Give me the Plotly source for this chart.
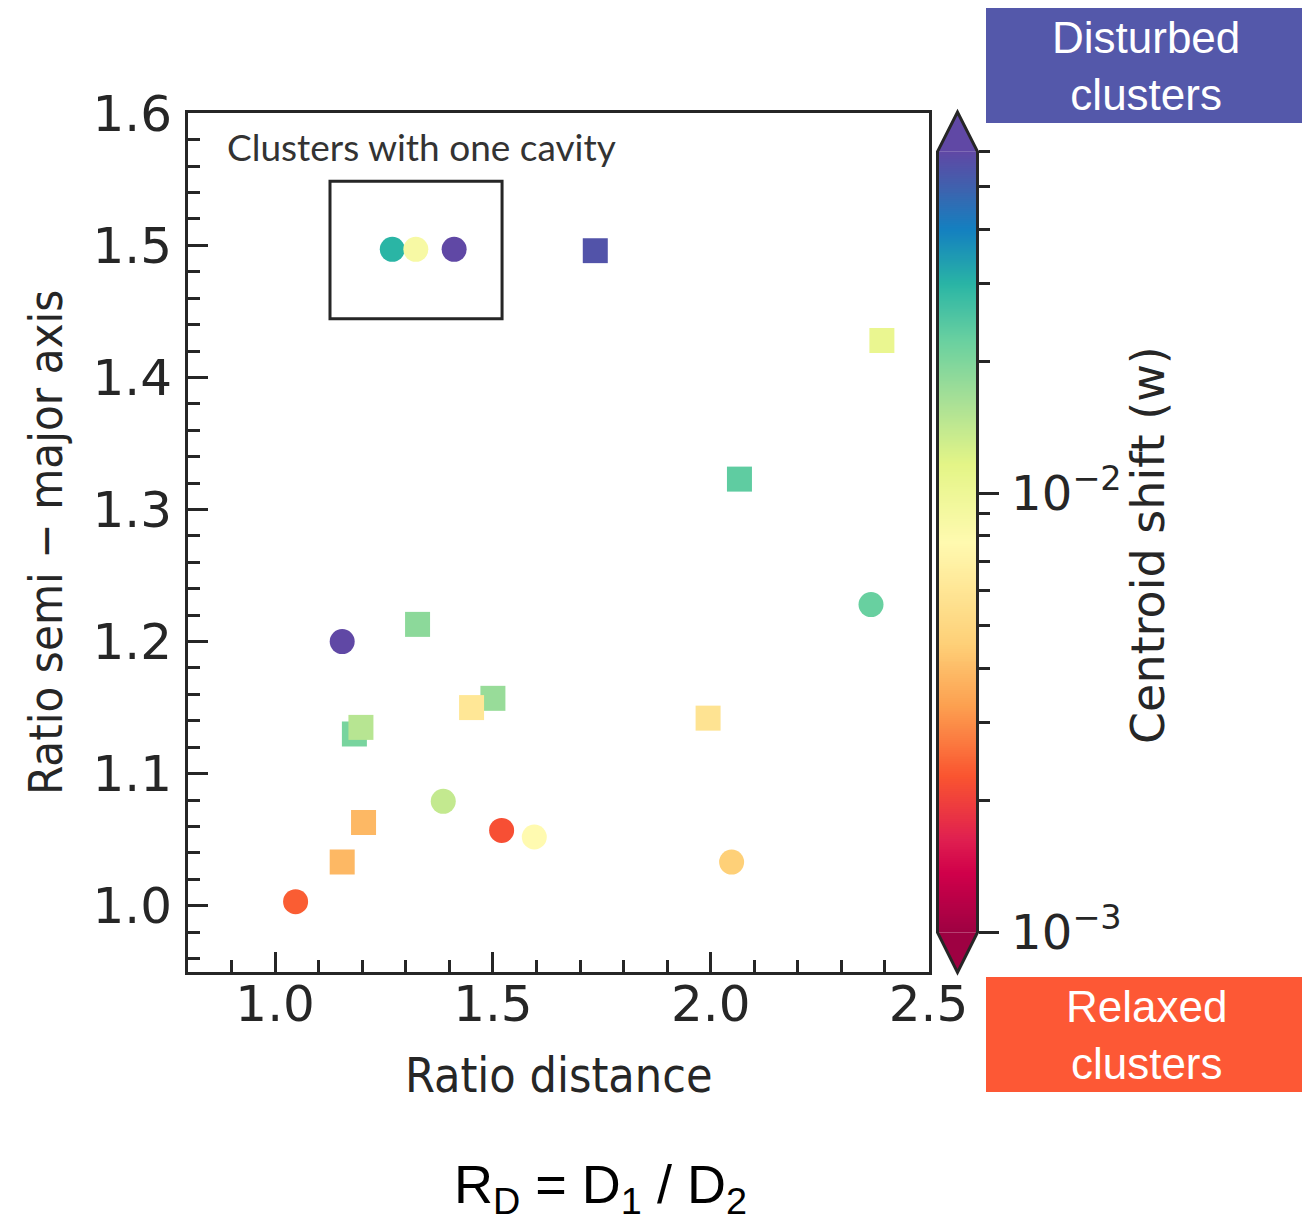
import numpy as np
import plotly.graph_objects as go

# ---- data -------------------------------------------------------------
# clusters drawn as circles
circ_x = [1.269, 1.323, 1.411, 2.368, 1.154, 1.386, 1.520, 1.595, 1.047, 2.048]
circ_y = [1.497, 1.497, 1.497, 1.228, 1.200, 1.079, 1.057, 1.052, 1.003, 1.033]
circ_w = [0.0299, 0.00875, 0.070, 0.0225, 0.070, 0.0140, 0.00218, 0.00774, 0.00236, 0.00455]

# clusters drawn as squares
sq_x = [1.735, 2.393, 2.066, 1.327, 1.500, 1.451, 1.182, 1.197, 1.203, 1.154, 1.994]
sq_y = [1.496, 1.428, 1.323, 1.213, 1.157, 1.150, 1.130, 1.135, 1.063, 1.033, 1.142]
sq_w = [0.0553, 0.0107, 0.0234, 0.0187, 0.0176, 0.00606, 0.0207, 0.0149, 0.00386, 0.00386, 0.00582]

x_ticks = [1.0, 1.5, 2.0, 2.5]
y_ticks = [1.0, 1.1, 1.2, 1.3, 1.4, 1.5, 1.6]
w_min, w_max = 1e-3, 6e-2
cb_major = [1e-3, 1e-2]
cb_major_text = ["10<sup>\u22123</sup>", "10<sup>\u22122</sup>"]
cb_minor = [2e-3, 3e-3, 4e-3, 5e-3, 6e-3, 7e-3, 8e-3, 9e-3, 2e-2, 3e-2, 4e-2, 5e-2, 6e-2]

# saturated "spectral" colour map (red = relaxed, purple = disturbed)
spectral = [
    [0.000, "rgb(158,1,66)"],
    [0.075, "rgb(208,0,74)"],
    [0.120, "rgb(224,32,80)"],
    [0.200, "rgb(250,85,48)"],
    [0.290, "rgb(252,160,80)"],
    [0.370, "rgb(254,208,120)"],
    [0.500, "rgb(255,250,176)"],
    [0.600, "rgb(228,245,135)"],
    [0.680, "rgb(168,224,150)"],
    [0.760, "rgb(104,208,160)"],
    [0.830, "rgb(42,181,165)"],
    [0.900, "rgb(20,128,192)"],
    [0.950, "rgb(60,100,175)"],
    [1.000, "rgb(96,72,165)"],
]

# ---- page geometry (pixels -> paper) ----------------------------------
W, H = 1302, 1228


def fx(p):
    return p / W


def fy(p):
    return 1 - p / H


PLOT_L, PLOT_R, PLOT_T, PLOT_B = 188, 928.5, 113.3, 971.7
CB_L, CB_R, CB_T, CB_B = 937.5, 977.5, 151.7, 932.5
CB_APEX_T, CB_APEX_B = 112.0, 972.5

INK = "#262626"
TICK_FONT = dict(family="DejaVu Sans", size=50, color=INK)
TITLE_FONT = dict(family="DejaVu Sans Condensed, DejaVu Sans", size=47, color=INK)

fig = go.Figure()

fig.add_trace(go.Scatter(
    x=sq_x, y=sq_y, mode="markers", showlegend=False,
    marker=dict(symbol="square", size=25, color=np.log10(sq_w), coloraxis="coloraxis",
                line=dict(width=0)),
))
fig.add_trace(go.Scatter(
    x=circ_x, y=circ_y, mode="markers", showlegend=False,
    marker=dict(symbol="circle", size=25, color=np.log10(circ_w), coloraxis="coloraxis",
                line=dict(width=0)),
))

# colour bar body as a one-column heatmap on its own log axis
cb_vals = np.logspace(np.log10(w_min) - 0.01, np.log10(w_max) + 0.01, 400)
cb_z = [[v, v] for v in np.log10(cb_vals)]
fig.add_trace(go.Heatmap(
    x=[0, 1], y=cb_vals, z=cb_z, coloraxis="coloraxis",
    xaxis="x3", yaxis="y3", hoverinfo="skip", showscale=False,
))

axis_common = dict(
    showline=True, linewidth=3, linecolor=INK, mirror=True,
    ticks="inside", ticklen=20, tickwidth=3, tickcolor=INK,
    showgrid=False, zeroline=False, tickfont=TICK_FONT, automargin=False,
)

fig.update_layout(
    width=W, height=H, autosize=False,
    margin=dict(l=0, r=0, t=0, b=0, pad=0),
    paper_bgcolor="white", plot_bgcolor="white",
    coloraxis=dict(colorscale=spectral, cmin=np.log10(w_min), cmax=np.log10(w_max),
                   showscale=False),
    xaxis=dict(domain=[fx(PLOT_L), fx(PLOT_R)], range=[0.8, 2.5],
               tickvals=x_ticks, ticktext=[f"{v:.1f}" for v in x_ticks],
               ticklabelstandoff=-14,
               minor=dict(dtick=0.1, tick0=0.8, ticks="inside", ticklen=12,
                          tickwidth=3, tickcolor=INK),
               **axis_common),
    yaxis=dict(domain=[fy(PLOT_B), fy(PLOT_T)], range=[0.95, 1.6],
               tickvals=y_ticks, ticktext=[f"{v:.1f}" for v in y_ticks],
               ticklabelstandoff=3,
               minor=dict(dtick=0.02, tick0=0.96, ticks="inside", ticklen=12,
                          tickwidth=3, tickcolor=INK),
               **axis_common),
    xaxis3=dict(domain=[fx(CB_L), fx(CB_R)], range=[0, 1], visible=False,
                anchor="y3", fixedrange=True, automargin=False),
    yaxis3=dict(domain=[fy(CB_B), fy(CB_T)], type="log",
                range=[np.log10(w_min), np.log10(w_max)],
                anchor="x3", side="right", showgrid=False, zeroline=False,
                showline=False, ticks="outside", ticklen=20, tickwidth=3,
                tickcolor=INK, tickvals=cb_major, ticktext=cb_major_text,
                tickfont=dict(family="DejaVu Sans", size=48, color=INK),
                ticklabelstandoff=3, automargin=False,
                minor=dict(tickvals=cb_minor, ticks="outside", ticklen=11,
                           tickwidth=3, tickcolor=INK)),
)

shapes = []
# frame around the one-cavity group
shapes.append(dict(type="rect", xref="x", yref="y", x0=1.126, x1=1.521, y0=1.4445, y1=1.5485,
                   line=dict(color=INK, width=3), fillcolor="rgba(0,0,0,0)"))
# colour bar extension triangles
mid = fx((CB_L + CB_R) / 2)
shapes.append(dict(type="path", xref="paper", yref="paper",
                   path=f"M{fx(CB_L)},{fy(CB_T)} L{mid},{fy(CB_APEX_T)} L{fx(CB_R)},{fy(CB_T)} Z",
                   fillcolor=spectral[-1][1], line=dict(width=0)))
shapes.append(dict(type="path", xref="paper", yref="paper",
                   path=f"M{fx(CB_L)},{fy(CB_B)} L{mid},{fy(CB_APEX_B)} L{fx(CB_R)},{fy(CB_B)} Z",
                   fillcolor=spectral[0][1], line=dict(width=0)))
# colour bar outline
shapes.append(dict(type="path", xref="paper", yref="paper",
                   path=f"M{fx(CB_L)},{fy(CB_T)} L{mid},{fy(CB_APEX_T)} "
                        f"L{fx(CB_R)},{fy(CB_T)} L{fx(CB_R)},{fy(CB_B)} "
                        f"L{mid},{fy(CB_APEX_B)} L{fx(CB_L)},{fy(CB_B)} Z",
                   line=dict(color=INK, width=3), fillcolor="rgba(0,0,0,0)"))
# side labels
shapes.append(dict(type="rect", xref="paper", yref="paper", x0=fx(986), x1=fx(1302),
                   y0=fy(123), y1=fy(8), fillcolor="#5458AA", line=dict(width=0)))
shapes.append(dict(type="rect", xref="paper", yref="paper", x0=fx(986), x1=fx(1302),
                   y0=fy(1092), y1=fy(977), fillcolor="#FD5835", line=dict(width=0)))
fig.update_layout(shapes=shapes)

box_font = dict(family="Liberation Sans, Arial", size=44, color="white")
annotations = [
    dict(text="Ratio distance", x=fx(558), y=fy(1075), xref="paper", yref="paper",
         showarrow=False, font=dict(TITLE_FONT, size=48), xanchor="center", yanchor="middle"),
    dict(text="Ratio semi \u2212 major axis", x=fx(45), y=fy(543), xref="paper", yref="paper",
         showarrow=False, font=TITLE_FONT, textangle=-90, xanchor="center", yanchor="middle"),
    dict(text="Centroid shift (w)", x=fx(1148), y=fy(545), xref="paper", yref="paper",
         showarrow=False, font=dict(family="DejaVu Sans", size=46, color=INK),
         textangle=-90, xanchor="center", yanchor="middle"),
    dict(text="Clusters with one cavity", x=fx(421), y=fy(146), xref="paper", yref="paper",
         showarrow=False, font=dict(family="Lato", size=37, color="#333333"),
         xanchor="center", yanchor="middle"),
    dict(text="Disturbed<br>clusters", x=fx(1146), y=fy(66), xref="paper", yref="paper",
         showarrow=False, font=box_font, xanchor="center", yanchor="middle"),
    dict(text="Relaxed<br>clusters", x=fx(1146), y=fy(1035), xref="paper", yref="paper",
         showarrow=False, font=box_font, xanchor="center", yanchor="middle"),
    dict(text="R<sub>D</sub> = D<sub>1</sub> / D<sub>2</sub>", x=fx(600), y=fy(1188),
         xref="paper", yref="paper", showarrow=False,
         font=dict(family="Liberation Sans, Arial", size=54, color="black"),
         xanchor="center", yanchor="middle"),
]
fig.update_layout(annotations=annotations)

fig.write_html("out.html")
